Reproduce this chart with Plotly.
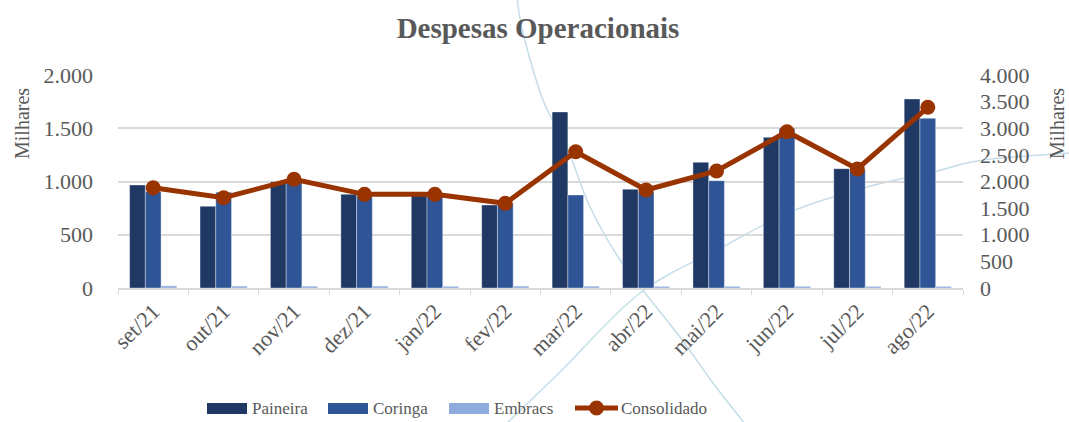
import plotly.graph_objects as go

# ---- data ----
categories = ["set/21", "out/21", "nov/21", "dez/21", "jan/22", "fev/22",
              "mar/22", "abr/22", "mai/22", "jun/22", "jul/22", "ago/22"]
paineira = [967, 767, 998, 880, 865, 779, 1653, 927, 1180, 1415, 1120, 1775]
coringa = [904, 898, 1015, 860, 878, 790, 873, 904, 1008, 1500, 1108, 1593]
embracs = [20, 18, 17, 18, 16, 18, 17, 15, 16, 16, 15, 15]
consolidado = [1883, 1696, 2041, 1759, 1759, 1590, 2560, 1840, 2197, 2935, 2235, 3393]
series_names = ["Paineira", "Coringa", "Embracs", "Consolidado"]
left_ticks = [0, 500, 1000, 1500, 2000]
right_ticks = [0, 500, 1000, 1500, 2000, 2500, 3000, 3500, 4000]

# ---- style ----
W, H = 1069, 422
L, R, T, B = 118, 106, 75, 134
PW, PH = W - L - R, H - T - B
C_PAI, C_COR, C_EMB, C_CON = "#203864", "#2F5597", "#8FAADC", "#993300"
GRAY = "#595959"
FONT = "Liberation Serif"


def px(x):
    return (x - L) / PW


def py(y):
    return (H - B - y) / PH


def smooth_path(pts):
    # Catmull-Rom -> cubic bezier, pixel points -> paper coords
    p = [(px(a), py(b)) for a, b in pts]
    d = f"M{p[0][0]:.4f},{p[0][1]:.4f}"
    for i in range(len(p) - 1):
        p0 = p[i - 1] if i > 0 else p[i]
        p1, p2 = p[i], p[i + 1]
        p3 = p[i + 2] if i + 2 < len(p) else p2
        c1 = (p1[0] + (p2[0] - p0[0]) / 6, p1[1] + (p2[1] - p0[1]) / 6)
        c2 = (p2[0] - (p3[0] - p1[0]) / 6, p2[1] - (p3[1] - p1[1]) / 6)
        d += f" C{c1[0]:.4f},{c1[1]:.4f} {c2[0]:.4f},{c2[1]:.4f} {p2[0]:.4f},{p2[1]:.4f}"
    return d


fig = go.Figure()
outline = dict(color="rgba(255,255,255,0.45)", width=0.8)
fig.add_trace(go.Bar(x=categories, y=paineira, name=series_names[0],
                     marker=dict(color=C_PAI, line=outline)))
fig.add_trace(go.Bar(x=categories, y=coringa, name=series_names[1],
                     marker=dict(color=C_COR, line=outline)))
fig.add_trace(go.Bar(x=categories, y=embracs, name=series_names[2],
                     marker=dict(color=C_EMB, line=outline)))
fig.add_trace(go.Scatter(x=categories, y=consolidado, name=series_names[3], yaxis="y2",
                         mode="lines+markers",
                         line=dict(color=C_CON, width=5),
                         marker=dict(color=C_CON, size=15)))

shapes = []
# decorative background curves
curve1 = [(517, -2), (523, 33), (543, 100), (568, 150), (590, 207), (620, 260),
          (645, 293), (680, 337), (713, 383), (745, 424)]
curve2 = [(505, 425), (560, 372), (640, 293), (723, 247), (790, 212), (867, 187),
          (933, 172), (983, 160), (1069, 153)]
for cv in (curve1, curve2):
    shapes.append(dict(type="path", xref="paper", yref="paper", path=smooth_path(cv),
                       line=dict(color="#C5DDE8", width=1.5), layer="below"))

# custom legend
annotations = []
leg_y = 408
leg_items = [(207, C_PAI), (328, C_COR), (449, C_EMB)]
for (x0, col), name in zip(leg_items, series_names[:3]):
    shapes.append(dict(type="rect", xref="paper", yref="paper",
                       x0=px(x0), x1=px(x0 + 40), y0=py(leg_y - 5), y1=py(leg_y + 6),
                       fillcolor=col, line=dict(width=0)))
    annotations.append(dict(x=px(x0 + 43), y=py(leg_y), xref="paper", yref="paper",
                            text=name, showarrow=False, xanchor="left", yanchor="middle",
                            font=dict(family=FONT, size=17, color=GRAY)))
shapes.append(dict(type="line", xref="paper", yref="paper",
                   x0=px(575), x1=px(618), y0=py(leg_y), y1=py(leg_y),
                   line=dict(color=C_CON, width=5)))
shapes.append(dict(type="circle", xref="paper", yref="paper",
                   x0=px(589), x1=px(604), y0=py(leg_y - 7.5), y1=py(leg_y + 7.5),
                   fillcolor=C_CON, line=dict(width=0)))
annotations.append(dict(x=px(619), y=py(leg_y), xref="paper", yref="paper",
                        text=series_names[3], showarrow=False, xanchor="left", yanchor="middle",
                        font=dict(family=FONT, size=17, color=GRAY)))
# axis titles
for xx in (22, 1057):
    annotations.append(dict(x=px(xx), y=py(124), xref="paper", yref="paper",
                            text="Milhares", showarrow=False, textangle=-90,
                            xanchor="center", yanchor="middle",
                            font=dict(family=FONT, size=20, color=GRAY)))

fig.update_layout(
    width=W, height=H,
    margin=dict(l=L, r=R, t=T, b=B, autoexpand=False),
    paper_bgcolor="white", plot_bgcolor="rgba(0,0,0,0)",
    separators=",.",
    barmode="group", bargap=0.33, bargroupgap=0,
    showlegend=False,
    title=dict(text="<b>Despesas Operacionais</b>", x=538 / W, xanchor="center",
               y=1 - 28 / H, yanchor="middle",
               font=dict(family=FONT, size=29, color=GRAY)),
    font=dict(family=FONT, size=18, color=GRAY),
    xaxis=dict(type="category", range=[-0.5, len(categories) - 0.5],
               tickangle=-45, showgrid=False, automargin=False,
               showline=True, linecolor="#D9D9D9", linewidth=1.5,
               ticks="outside", tickson="boundaries", ticklen=5, tickcolor="#D9D9D9",
               tickfont=dict(family=FONT, size=22, color=GRAY)),
    yaxis=dict(range=[0, 2000], tickvals=left_ticks, tickformat=",.0f", automargin=False,
               showgrid=True, gridcolor="#D9D9D9", gridwidth=1.5,
               zeroline=False, showline=False, ticks="", ticklabelstandoff=24,
               tickfont=dict(family=FONT, size=22, color=GRAY)),
    yaxis2=dict(range=[0, 4000], tickvals=right_ticks, tickformat=",.0f", automargin=False,
                overlaying="y", side="right", showgrid=False, zeroline=False,
                showline=False, ticks="", ticklabelstandoff=16,
                tickfont=dict(family=FONT, size=22, color=GRAY)),
    shapes=shapes,
    annotations=annotations,
)

fig.write_html("out.html", config={"displayModeBar": False},
               post_script="document.body.style.margin='0';")
